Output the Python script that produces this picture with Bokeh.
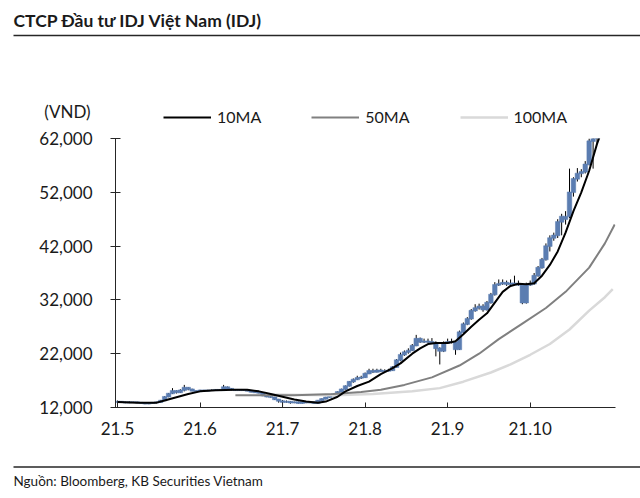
from bokeh.plotting import figure
from bokeh.layouts import column, row
from bokeh.models import (ColumnDataSource, FixedTicker, Label, Legend, LegendItem,
                          NumeralTickFormatter, Range1d, BoxAnnotation)
from bokeh.embed import file_html
from bokeh.resources import INLINE

# ---------------- data (prices in thousand VND) ----------------
month_labels = ["21.5", "21.6", "21.7", "21.8", "21.9", "21.10"]
month_tick_days = [0, 21, 42, 63, 84, 105]
y_ticks = [12000, 22000, 32000, 42000, 52000, 62000]

opens = [13.0, 13.1, 13.0, 12.9, 13.0, 13.0, 12.9, 12.8, 12.7, 12.8,
         12.9, 13.0, 13.3, 14.0, 14.6, 15.1, 14.8, 15.2, 15.7, 15.4,
         15.1, 15.0, 15.2, 15.1, 15.2, 15.2, 15.3, 15.2, 15.8, 15.5,
         15.3, 15.2, 15.3, 15.2, 15.1, 14.9, 14.8, 14.7, 14.2, 14.0,
         13.9, 13.5, 13.2, 13.0, 13.1, 12.9, 13.0, 12.8, 13.0, 12.9,
         13.0, 12.8, 13.3, 13.6, 13.9, 14.2, 14.5, 14.9, 15.4, 16.0,
         16.8, 17.2, 17.5, 17.6, 18.3, 18.8, 18.6, 18.9, 18.7, 18.8,
         18.9, 19.5, 20.8, 21.8, 22.3, 22.6, 23.5, 24.8, 24.2, 24.3,
         24.2, 24.0, 23.0, 22.5, 24.0, 24.2, 24.1, 22.8, 26.0, 27.5,
         28.5, 30.0, 30.5, 30.8, 30.2, 31.5, 33.0, 34.8, 35.0, 35.2,
         34.9, 35.1, 35.0, 34.8, 31.5, 34.8, 35.0, 36.5, 38.0, 39.5,
         42.0, 43.5, 44.0, 46.5, 47.5, 47.5, 52.0, 54.5, 55.5, 55.8,
         57.2, 61.5, 62.5]
highs = [13.3, 13.2, 13.1, 13.2, 13.1, 13.1, 13.0, 12.9, 12.9, 13.0,
         13.1, 13.4, 14.1, 14.7, 15.6, 15.2, 15.4, 16.2, 15.8, 15.5,
         15.2, 15.3, 15.3, 15.3, 15.4, 15.4, 15.4, 16.2, 15.9, 15.6,
         15.4, 15.4, 15.4, 15.3, 15.2, 15.0, 14.9, 14.8, 14.3, 14.1,
         14.0, 13.6, 13.4, 13.3, 13.2, 13.1, 13.1, 13.1, 13.1, 13.1,
         13.1, 13.4, 13.7, 14.0, 14.3, 14.6, 15.0, 15.5, 16.1, 16.9,
         17.4, 17.9, 17.9, 18.5, 19.2, 19.2, 19.2, 19.2, 19.1, 19.2,
         19.7, 21.0, 22.2, 22.6, 23.0, 23.8, 25.5, 25.0, 24.8, 24.8,
         24.9, 24.3, 23.2, 24.3, 24.8, 24.8, 24.3, 26.3, 27.8, 28.8,
         30.3, 31.2, 31.3, 31.2, 31.8, 33.3, 35.3, 35.8, 35.8, 35.6,
         35.8, 36.5, 35.6, 35.0, 35.2, 35.6, 37.0, 38.3, 39.8, 42.5,
         44.0, 44.5, 47.0, 48.0, 48.5, 56.4, 54.8, 56.5, 56.3, 57.8,
         62.0, 63.0, 65.0]
lows = [12.8, 12.9, 12.8, 12.8, 12.9, 12.8, 12.7, 12.6, 12.6, 12.7,
        12.8, 12.9, 13.2, 13.9, 14.5, 14.6, 14.7, 15.0, 15.2, 15.0,
        14.9, 14.9, 15.0, 15.0, 15.1, 15.1, 15.1, 15.1, 15.4, 15.2,
        15.1, 15.1, 15.1, 15.0, 14.8, 14.7, 14.6, 14.1, 13.9, 13.8,
        13.4, 12.9, 12.2, 12.9, 12.7, 12.8, 12.7, 12.7, 12.8, 12.8,
        12.7, 12.7, 13.2, 13.5, 13.8, 14.1, 14.4, 14.8, 15.3, 15.9,
        16.6, 17.1, 17.3, 17.5, 18.2, 18.4, 18.5, 18.6, 18.6, 18.7,
        18.8, 19.4, 20.6, 21.6, 22.0, 22.5, 23.4, 24.0, 24.0, 24.0,
        23.8, 21.5, 20.0, 22.3, 23.8, 23.9, 21.8, 22.7, 25.8, 27.3,
        28.3, 29.8, 30.2, 29.8, 30.0, 31.3, 32.8, 34.6, 34.8, 34.6,
        34.7, 34.8, 34.6, 31.2, 31.3, 34.6, 34.8, 36.3, 37.8, 39.3,
        41.0, 43.0, 43.5, 44.0, 46.0, 47.2, 51.2, 54.0, 54.8, 55.5,
        57.0, 56.4, 61.0]
closes = [13.1, 13.0, 12.9, 13.0, 13.0, 12.9, 12.8, 12.7, 12.8, 12.9,
          13.0, 13.3, 14.0, 14.6, 15.1, 14.8, 15.2, 15.7, 15.4, 15.1,
          15.0, 15.2, 15.1, 15.2, 15.2, 15.3, 15.2, 15.8, 15.5, 15.3,
          15.2, 15.3, 15.2, 15.1, 14.9, 14.8, 14.7, 14.2, 14.0, 13.9,
          13.5, 13.2, 13.0, 13.1, 12.9, 13.0, 12.8, 13.0, 12.9, 13.0,
          12.8, 13.3, 13.6, 13.9, 14.2, 14.5, 14.9, 15.4, 16.0, 16.8,
          17.2, 17.5, 17.6, 18.3, 18.8, 18.6, 18.9, 18.7, 18.8, 18.9,
          19.5, 20.8, 21.8, 22.3, 22.6, 23.5, 24.8, 24.2, 24.3, 24.2,
          24.0, 23.0, 22.5, 24.0, 24.2, 24.1, 22.8, 26.0, 27.5, 28.5,
          30.0, 30.5, 30.8, 30.2, 31.5, 33.0, 34.8, 35.0, 35.2, 34.9,
          35.1, 35.0, 34.8, 31.5, 34.8, 35.0, 36.5, 38.0, 39.5, 42.0,
          43.5, 44.0, 46.5, 47.5, 47.0, 52.0, 54.5, 55.5, 55.8, 57.2,
          61.5, 62.5, 64.0]

ma10_day = [0, 5, 10, 12, 15, 18, 21, 25, 30, 33, 36, 39, 42, 45, 48, 51, 53,
            56, 58, 61, 64, 67, 70, 72, 75, 77, 79, 81, 84, 86, 88, 90, 92,
            94, 96, 98, 100, 102, 104, 106, 108, 110, 112, 114, 116, 118,
            120, 122, 123]
ma10_val = [13.0, 12.9, 12.9, 13.3, 13.9, 14.5, 15.0, 15.2, 15.3, 15.3, 15.0,
            14.5, 14.0, 13.5, 13.1, 12.9, 13.1, 14.0, 15.0, 16.0, 16.8, 18.2,
            19.3, 20.2, 22.0, 23.0, 23.8, 24.0, 24.0, 24.3, 25.6, 27.0, 28.3,
            29.5, 31.5, 33.5, 34.6, 35.0, 34.9, 35.1, 36.5, 38.5, 41.0, 44.5,
            48.5, 52.0, 56.0, 61.0, 63.0]

ma50_day = [30, 45, 55, 62, 67, 73, 80, 87, 92, 97, 103, 109, 114, 120, 124, 126.5]
ma50_val = [14.3, 14.3, 14.5, 14.9, 15.3, 16.2, 17.6, 19.8, 22.0, 24.7, 27.6,
            30.5, 33.5, 38.0, 42.5, 46.0]

ma100_day = [38, 55, 65, 75, 82, 88, 95, 100, 105, 110, 115, 120, 124, 126]
ma100_val = [14.4, 14.3, 14.5, 15.0, 15.6, 16.8, 18.5, 20.0, 21.8, 23.8, 26.5,
             30.0, 32.5, 34.0]

title_text = "CTCP Đầu tư IDJ Việt Nam (IDJ)"
unit_text = "(VND)"
source_text = "Nguồn: Bloomberg, KB Securities Vietnam"
series_names = ["10MA", "50MA", "100MA"]

# ---------------- styling ----------------
BLUE = "#5b7db1"
MA_COLORS = ["black", "#808080", "#d9d9d9"]
MA_WIDTHS = [2, 2, 2.5]
FONT = "Lato"
TXT = "#1a1a1a"
RULE = "#262626"
W = 640
K = 1000.0

# ---------------- header (title, rule, unit, legend) ----------------
HH = 128
hdr = figure(width=W, height=HH, output_backend="svg", toolbar_location=None,
             x_range=Range1d(0, W), y_range=Range1d(HH, 0),
             x_axis_type=None, y_axis_type=None,
             min_border_left=0, min_border_right=0, min_border_top=0,
             min_border_bottom=0)
hdr.outline_line_color = None
hdr.grid.visible = False
hdr.add_layout(Label(x=13, y=20, text=title_text, text_font=FONT,
                     text_font_style="bold", text_font_size="17.5px",
                     text_color=TXT, text_baseline="middle", text_align="left"))
hdr.add_layout(BoxAnnotation(left=13, right=W, top=34.2, bottom=35.8,
                             fill_color=RULE, fill_alpha=1, line_color=None))
hdr.add_layout(Label(x=67, y=111, text=unit_text, text_font=FONT,
                     text_font_size="17px", text_color=TXT,
                     text_baseline="middle", text_align="center"))
# legend keys (styled like the chart's average lines; drawn off-range)
dummies = [hdr.line(x=[-20, -10], y=[-20, -20], line_color=c, line_width=w)
           for c, w in zip(MA_COLORS, MA_WIDTHS)]
legend = Legend(items=[LegendItem(label=n, renderers=[r])
                       for n, r in zip(series_names, dummies)],
                orientation="horizontal", location=(163, 2),
                glyph_width=48, glyph_height=18, label_standoff=6, spacing=50,
                padding=0, margin=0, border_line_color=None,
                background_fill_alpha=0, label_text_font=FONT,
                label_text_font_size="16px", label_text_color=TXT)
hdr.add_layout(legend)

# ---------------- main chart ----------------
days = list(range(len(closes)))
src = ColumnDataSource(dict(
    day=days,
    high=[h * K for h in highs],
    low=[l * K for l in lows],
    top=[max(o, c) * K + 60 for o, c in zip(opens, closes)],
    bottom=[min(o, c) * K - 60 for o, c in zip(opens, closes)],
))

MH = 332
p = figure(width=W, height=MH, output_backend="svg", toolbar_location=None,
           x_range=Range1d(-0.5, 126.7), y_range=Range1d(12000, 62000),
           min_border_left=115, min_border_right=25, min_border_top=138 - HH,
           min_border_bottom=HH + MH - 407)
p.outline_line_color = None
p.grid.visible = False

p.segment(x0="day", y0="low", x1="day", y1="high", source=src,
          line_color="black", line_width=1)
p.vbar(x="day", width=1.15, top="top", bottom="bottom", source=src,
       fill_color=BLUE, line_color=BLUE, line_width=0.5)

for d, v, c, w in zip([ma100_day, ma50_day, ma10_day],
                      [ma100_val, ma50_val, ma10_val],
                      MA_COLORS[::-1], MA_WIDTHS[::-1]):
    p.line(d, [x * K for x in v], line_color=c, line_width=w)

xa = p.xaxis[0]
xa.ticker = FixedTicker(ticks=month_tick_days)
xa.major_label_overrides = {d: l for d, l in zip(month_tick_days, month_labels)}
xa.major_tick_in = 5
xa.major_tick_out = 0
xa.minor_tick_line_color = None
xa.axis_line_color = RULE
xa.major_tick_line_color = RULE
xa.major_label_standoff = 14
xa.major_label_text_font = FONT
xa.major_label_text_font_size = "17px"
xa.major_label_text_color = TXT

ya = p.yaxis[0]
ya.ticker = FixedTicker(ticks=y_ticks)
ya.formatter = NumeralTickFormatter(format="0,0")
ya.major_tick_in = 5
ya.major_tick_out = 5
ya.minor_tick_line_color = None
ya.axis_line_color = RULE
ya.major_tick_line_color = RULE
ya.major_label_standoff = 18
ya.major_label_text_font = FONT
ya.major_label_text_font_size = "17px"
ya.major_label_text_color = TXT

# ---------------- footer (rule, source) ----------------
FH = 498 - HH - MH
ftr = figure(width=W, height=FH, output_backend="svg", toolbar_location=None,
             x_range=Range1d(0, W), y_range=Range1d(FH, 0),
             x_axis_type=None, y_axis_type=None,
             min_border_left=0, min_border_right=0, min_border_top=0,
             min_border_bottom=0)
ftr.outline_line_color = None
ftr.grid.visible = False
ftr.add_layout(BoxAnnotation(left=13, right=W, top=5.7, bottom=7.3,
                             fill_color=RULE, fill_alpha=1, line_color=None))
ftr.add_layout(Label(x=13, y=20, text=source_text, text_font=FONT,
                     text_font_size="13.5px", text_color=TXT,
                     text_baseline="middle", text_align="left"))

layout = column(row(hdr), p, row(ftr), spacing=0)
open("out.html", "w").write(file_html(layout, INLINE))
